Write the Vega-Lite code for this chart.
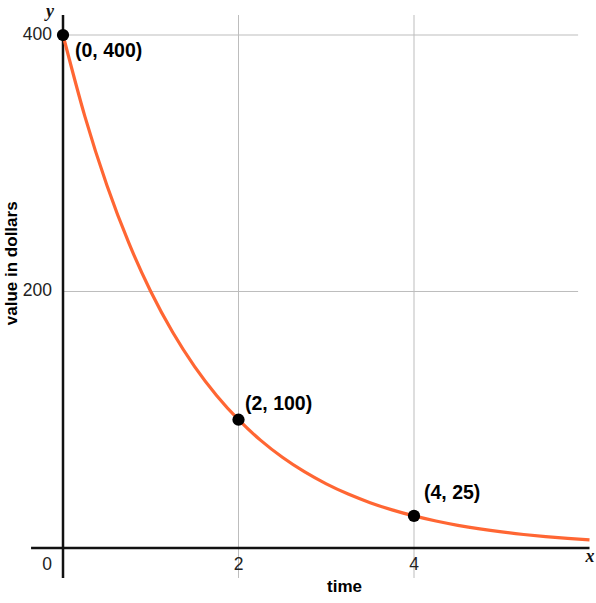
{
  "$schema": "https://vega.github.io/schema/vega-lite/v6.json",
  "width": 596,
  "height": 603,
  "autosize": {"type": "fit", "contains": "padding"},
  "padding": 0,
  "background": "white",
  "config": {"view": {"stroke": null}, "font": "Liberation Sans"},
  "datasets": {
    "grid": [
      {"x": 2, "x2": 2, "y": -23.4, "y2": 415.6},
      {"x": 4, "x2": 4, "y": -23.4, "y2": 415.6},
      {"x": 0, "x2": 5.87, "y": 200, "y2": 200},
      {"x": 0, "x2": 5.87, "y": 400, "y2": 400}
    ],
    "axes": [
      {"x": -0.364, "x2": 6.0, "y": 0, "y2": 0},
      {"x": 0, "x2": 0, "y": -23.4, "y2": 415.6}
    ],
    "curve": [
      {"t": 0, "v": 400}, {"t": 0.25, "v": 336.36}, {"t": 0.5, "v": 282.84}, {"t": 0.75, "v": 237.84},
      {"t": 1, "v": 200}, {"t": 1.25, "v": 168.18}, {"t": 1.5, "v": 141.42}, {"t": 1.75, "v": 118.92},
      {"t": 2, "v": 100}, {"t": 2.25, "v": 84.09}, {"t": 2.5, "v": 70.71}, {"t": 2.75, "v": 59.46},
      {"t": 3, "v": 50}, {"t": 3.25, "v": 42.04}, {"t": 3.5, "v": 35.36}, {"t": 3.75, "v": 29.73},
      {"t": 4, "v": 25}, {"t": 4.25, "v": 21.02}, {"t": 4.5, "v": 17.68}, {"t": 4.75, "v": 14.87},
      {"t": 5, "v": 12.5}, {"t": 5.25, "v": 10.51}, {"t": 5.5, "v": 8.84}, {"t": 5.75, "v": 7.43},
      {"t": 6, "v": 6.25}
    ],
    "points": [
      {"t": 0, "v": 400, "label": "(0, 400)", "lx": 0.137, "ly": 387.5},
      {"t": 2, "v": 100, "label": "(2, 100)", "lx": 2.074, "ly": 112.3},
      {"t": 4, "v": 25, "label": "(4, 25)", "lx": 4.114, "ly": 42.5}
    ],
    "yticks": [
      {"x": -0.125, "y": 400, "label": "400"},
      {"x": -0.125, "y": 200, "label": "200"}
    ],
    "xticks": [
      {"x": -0.182, "y": -13.3, "label": "0"},
      {"x": 2, "y": -13.3, "label": "2"},
      {"x": 4, "y": -13.3, "label": "4"}
    ],
    "xtitle": [{"x": 3.208, "y": -30.4, "label": "time"}],
    "ytitle": [{"x": -0.58, "y": 222, "label": "value in dollars"}],
    "letters": [
      {"x": -0.148, "y": 418, "label": "y"},
      {"x": 6.006, "y": -7, "label": "x"}
    ]
  },
  "layer": [
    {
      "data": {"name": "grid"},
      "mark": {"type": "rule", "color": "#bdbdbd", "strokeWidth": 1},
      "encoding": {
        "x": {"field": "x", "type": "quantitative", "scale": {"domain": [-0.718, 6.074], "nice": false, "zero": false}, "axis": null},
        "x2": {"field": "x2"},
        "y": {"field": "y", "type": "quantitative", "scale": {"domain": [-42.9, 427.3], "nice": false, "zero": false}, "axis": null},
        "y2": {"field": "y2"}
      }
    },
    {
      "data": {"name": "axes"},
      "mark": {"type": "rule", "color": "#111111", "strokeWidth": 2.5},
      "encoding": {
        "x": {"field": "x", "type": "quantitative"},
        "x2": {"field": "x2"},
        "y": {"field": "y", "type": "quantitative"},
        "y2": {"field": "y2"}
      }
    },
    {
      "data": {"name": "curve"},
      "mark": {"type": "line", "color": "#ff6633", "strokeWidth": 3.2, "interpolate": "monotone"},
      "encoding": {
        "x": {"field": "t", "type": "quantitative"},
        "y": {"field": "v", "type": "quantitative"}
      }
    },
    {
      "data": {"name": "points"},
      "mark": {"type": "circle", "color": "#000000", "opacity": 1, "size": 150},
      "encoding": {
        "x": {"field": "t", "type": "quantitative"},
        "y": {"field": "v", "type": "quantitative"}
      }
    },
    {
      "data": {"name": "points"},
      "mark": {"type": "text", "align": "left", "baseline": "middle", "fontWeight": "bold", "fontSize": 19.5, "color": "#000000"},
      "encoding": {
        "x": {"field": "lx", "type": "quantitative"},
        "y": {"field": "ly", "type": "quantitative"},
        "text": {"field": "label"}
      }
    },
    {
      "data": {"name": "yticks"},
      "mark": {"type": "text", "align": "right", "baseline": "middle", "fontSize": 17.5, "color": "#222222"},
      "encoding": {
        "x": {"field": "x", "type": "quantitative"},
        "y": {"field": "y", "type": "quantitative"},
        "text": {"field": "label"}
      }
    },
    {
      "data": {"name": "xticks"},
      "mark": {"type": "text", "align": "center", "baseline": "middle", "fontSize": 17.5, "color": "#222222"},
      "encoding": {
        "x": {"field": "x", "type": "quantitative"},
        "y": {"field": "y", "type": "quantitative"},
        "text": {"field": "label"}
      }
    },
    {
      "data": {"name": "xtitle"},
      "mark": {"type": "text", "align": "center", "baseline": "middle", "fontSize": 17, "fontWeight": "bold", "color": "#000000"},
      "encoding": {
        "x": {"field": "x", "type": "quantitative"},
        "y": {"field": "y", "type": "quantitative"},
        "text": {"field": "label"}
      }
    },
    {
      "data": {"name": "ytitle"},
      "mark": {"type": "text", "align": "center", "baseline": "middle", "angle": 270, "fontSize": 17, "fontWeight": "bold", "color": "#000000"},
      "encoding": {
        "x": {"field": "x", "type": "quantitative"},
        "y": {"field": "y", "type": "quantitative"},
        "text": {"field": "label"}
      }
    },
    {
      "data": {"name": "letters"},
      "mark": {"type": "text", "align": "center", "baseline": "middle", "fontSize": 18, "fontStyle": "italic", "fontWeight": "bold", "font": "Liberation Serif", "color": "#111111"},
      "encoding": {
        "x": {"field": "x", "type": "quantitative"},
        "y": {"field": "y", "type": "quantitative"},
        "text": {"field": "label"}
      }
    }
  ]
}
